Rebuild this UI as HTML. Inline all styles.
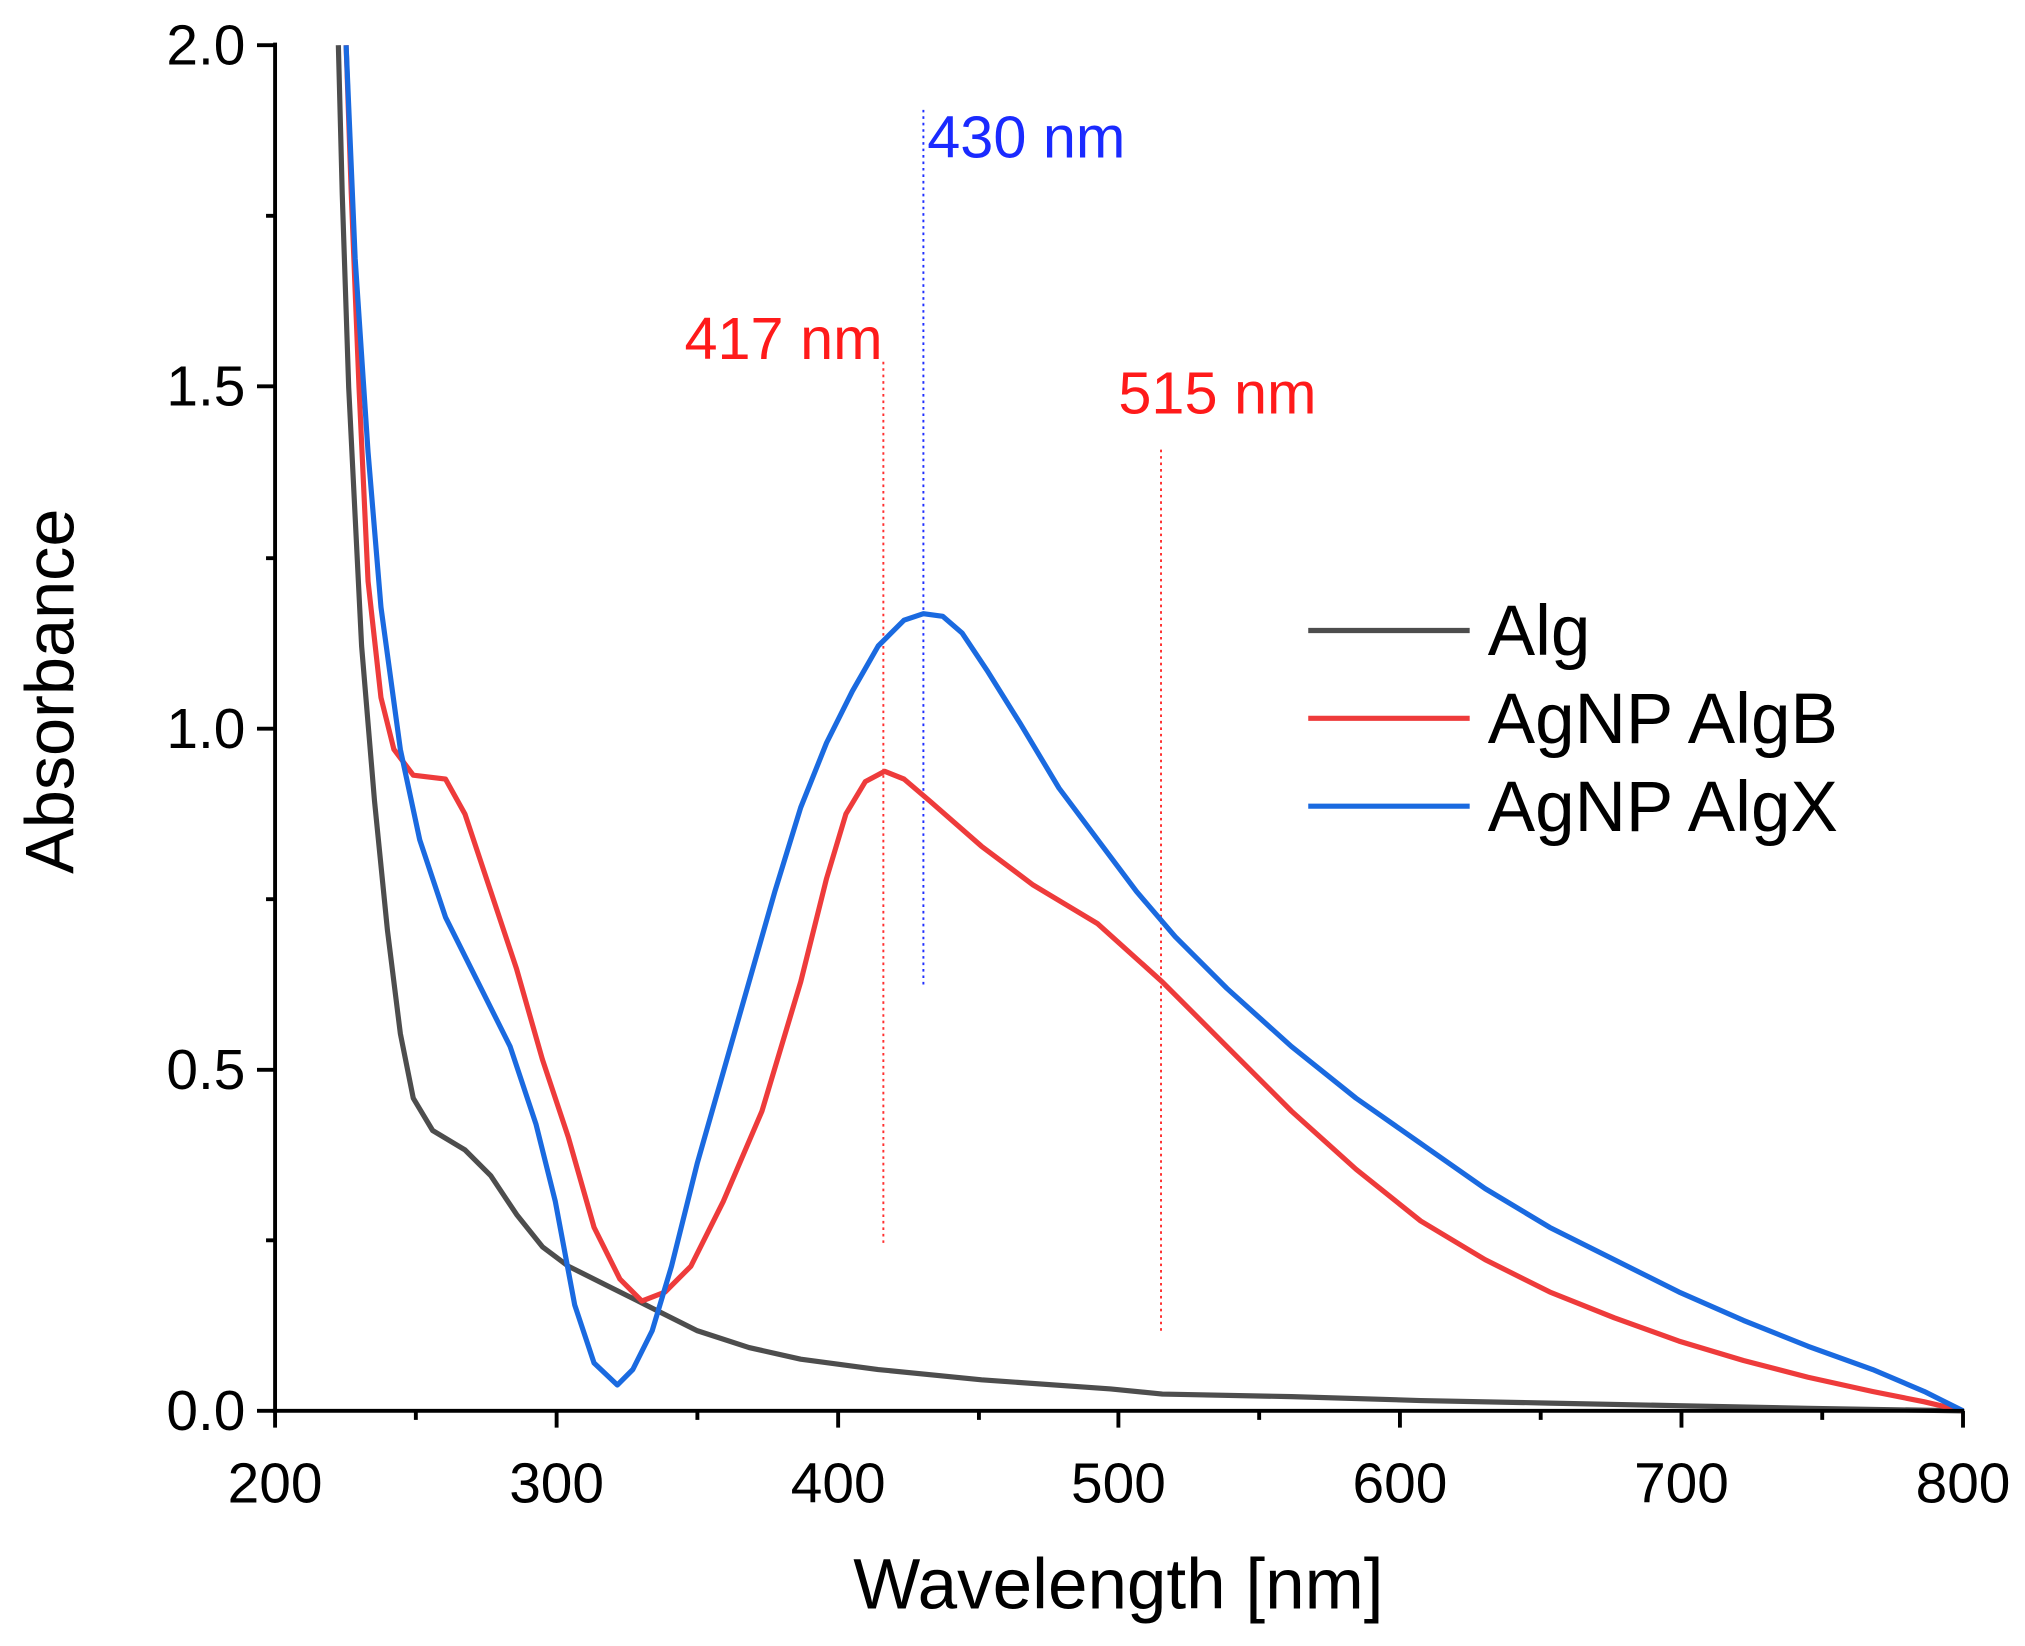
<!DOCTYPE html>
<html><head><meta charset="utf-8"><style>html,body{margin:0;padding:0;background:#fff}svg{display:block}</style></head>
<body>
<svg width="2025" height="1646" viewBox="0 0 1568 1274" preserveAspectRatio="none" xmlns="http://www.w3.org/2000/svg" font-family="Liberation Sans, Arial, sans-serif">
<rect width="1568" height="1274" fill="#fff"/>
<g stroke-width="1.5" stroke-dasharray="2,3" fill="none">
<line x1="684" y1="280" x2="684" y2="962" stroke="#ff3030"/>
<line x1="715" y1="85" x2="715" y2="765" stroke="#2030ff"/>
<line x1="899" y1="348" x2="899" y2="1030" stroke="#ff3030"/>
</g>
<g fill="none" stroke-width="4" stroke-linejoin="round">
<polyline stroke="#4d4d4d" points="262,35 265,150 270,300 280,500 290,620 300,720 310,800 320,850 335,875 360,890 380,910 400,940 420,965 440,980 470,995 500,1010 540,1030 580,1043 620,1052 680,1060 760,1068 860,1075 900,1079 1000,1081 1100,1084 1200,1086 1300,1088 1400,1090 1520,1092"/>
<polyline stroke="#ee3b3b" points="268,35 272,150 278,300 285,450 295,540 305,580 320,600 345,603 360,630 380,690 400,750 420,820 440,880 460,950 480,990 497,1007 515,1000 535,980 560,930 590,860 620,760 640,680 655,630 670,605 685,597 700,603 720,620 760,655 800,685 850,715 900,760 950,810 1000,860 1050,905 1100,945 1150,975 1200,1000 1250,1020 1300,1038 1350,1053 1400,1066 1450,1077 1490,1085 1520,1092"/>
<polyline stroke="#1a6ae0" points="268,35 275,200 285,350 295,470 310,580 325,650 345,710 370,760 395,810 415,870 430,930 445,1010 460,1055 478,1072 490,1060 505,1030 520,980 540,900 560,830 580,760 600,690 620,625 640,575 660,535 680,500 700,480 715,475 730,477 745,490 765,520 790,560 820,610 850,650 880,690 910,725 950,765 1000,810 1050,850 1100,885 1150,920 1200,950 1250,975 1300,1000 1350,1022 1400,1042 1450,1060 1490,1077 1520,1092"/>
</g>
<g stroke="#000" stroke-width="3" fill="none">
<line x1="213" y1="33" x2="213" y2="1093"/>
<line x1="211" y1="1092" x2="1521" y2="1092"/>
<path d="M213,1092v13M431,1092v13M649,1092v13M866,1092v13M1084,1092v13M1302,1092v13M1520,1092v13"/>
<path d="M322,1092v7M540,1092v7M758,1092v7M975,1092v7M1193,1092v7M1411,1092v7"/>
<path d="M199,1092h14M199,828h14M199,564h14M199,299h14M199,35h14"/>
<path d="M206,960h7M206,696h7M206,432h7M206,167h7"/>
</g>
<g font-size="44" fill="#000">
<g text-anchor="middle">
<text x="213" y="1163">200</text><text x="431" y="1163">300</text><text x="649" y="1163">400</text><text x="866" y="1163">500</text><text x="1084" y="1163">600</text><text x="1302" y="1163">700</text><text x="1520" y="1163">800</text>
</g>
<g text-anchor="end">
<text x="190" y="1107">0.0</text><text x="190" y="843">0.5</text><text x="190" y="579">1.0</text><text x="190" y="314">1.5</text><text x="190" y="50">2.0</text>
</g>
</g>
<text x="866" y="1245" font-size="55" text-anchor="middle">Wavelength [nm]</text>
<text transform="translate(57,535) rotate(-90)" font-size="53" text-anchor="middle">Absorbance</text>
<text x="530" y="278" font-size="46" fill="#ff1a1a">417 nm</text>
<text x="718" y="122" font-size="46" fill="#1a2aff">430 nm</text>
<text x="866" y="320" font-size="46" fill="#ff1a1a">515 nm</text>
<g stroke-width="4">
<line x1="1013" y1="488" x2="1138" y2="488" stroke="#4d4d4d"/>
<line x1="1013" y1="556" x2="1138" y2="556" stroke="#ee3b3b"/>
<line x1="1013" y1="624" x2="1138" y2="624" stroke="#1a6ae0"/>
</g>
<g font-size="55"><text x="1152" y="507">Alg</text><text x="1152" y="575">AgNP AlgB</text><text x="1152" y="643">AgNP AlgX</text></g>
</svg>
</body></html>
